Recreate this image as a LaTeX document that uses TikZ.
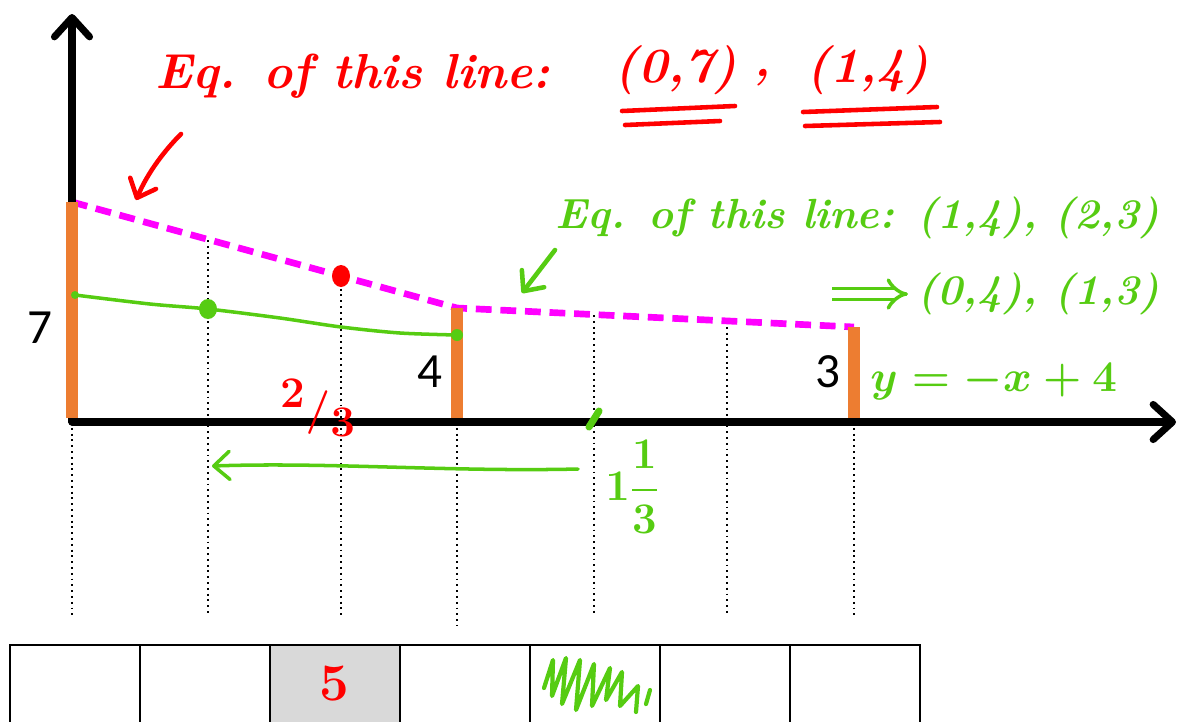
\documentclass[tikz,border=0pt]{standalone}
\usepackage{amsmath}
\usepackage{fontspec}
\usetikzlibrary{arrows.meta,positioning}
\newfontfamily\digitfont{Carlito}
\definecolor{BarOrange}{RGB}{237,125,49}
\definecolor{PenRed}{RGB}{255,0,0}
\definecolor{PenGreen}{RGB}{86,204,18}
\definecolor{SlopeMagenta}{RGB}{255,0,255}
\definecolor{CellGray}{RGB}{217,217,217}

\begin{document}
\begin{tikzpicture}[x=0.02cm, y=-0.02cm,
        axis/.style={line width=4pt, line cap=round,
                    -{Straight Barb[length=11pt, width=20pt, line width=4pt, round]}},
    bar/.style={BarOrange, line width=6.5pt},
    guide/.style={line width=1.1pt, dash pattern=on 1.1pt off 2.2pt},
        slope/.style={SlopeMagenta, line width=3.8pt, dash pattern=on 9pt off 5pt},
    digit/.style={font=\digitfont\fontsize{28}{30}\selectfont, inner sep=0pt},
    redpen/.style={PenRed, line width=2.6pt, line cap=round, line join=round},
    greenpen/.style={PenGreen, line width=2pt, line cap=round, line join=round},
    redtext/.style={text=PenRed, inner sep=0pt, font=\fontsize{28}{32}\selectfont\bfseries\itshape\boldmath},
    greentext/.style={text=PenGreen, inner sep=0pt, font=\fontsize{24}{28}\selectfont\bfseries\itshape\boldmath},
    barb/.style={-{Straight Barb[length=9pt, width=16pt, round]}},
    cell/.style={draw, line width=1.1pt, anchor=north west, inner sep=0pt, outer sep=0pt,
                minimum width=2.6cm, minimum height=1.8cm}
]
    \useasboundingbox (0,0) rectangle (1182,721);
    \clip (0,0) rectangle (1182,721);

    % grid of thirds
    \foreach \x/\top/\bot in {72/422/615, 208/240/615, 341/277/615, 457/422/625,
                              594/315/615, 727/321/615, 854/422/615}
        \draw[guide] (\x,\top) -- (\x,\bot);

    % the two pieces
    \coordinate (p0) at (72,202);
    \coordinate (p1) at (457,308);
    \coordinate (p2) at (854,327);
    \draw[slope] (p0) -- (p1) -- (p2);

    \coordinate (O) at (72,422);
    \coordinate (ytop) at (72,14);
    \coordinate (xend) at (1176,422);
    \draw[axis] (O) -- (ytop);
    \draw[axis] (O) -- (xend);

    \coordinate (b0) at (72,418);
    \coordinate (b1) at (457,418);
    \coordinate (b2) at (854,418);
    \draw[bar] (b0) -- (p0);
    \draw[bar] (b1) -- (p1);
    \draw[bar] (b2) -- (p2);

    \node[digit] (h7) at (40,328) {7};
    \node[digit] (h4) at (430,372) {4};
    \node[digit] (h3) at (828,372) {3};

    % red notes
    \node[redtext, anchor=west] (eqA) at (155,76) {Eq. of this line:};
    \node[redtext] (ptA) at (676,70) {(0,7)};
    \node[redtext] (comma) at (762,78) {,};
    \node[redtext] (ptB) at (868,70) {(1,4)};
    \draw[redpen] (622,111) -- (735,106);
    \draw[redpen] (625,125) -- (720,121);
    \draw[redpen] (803,112) -- (937,107);
    \draw[redpen] (805,126) -- (940,122);
    \coordinate (redtail) at (181,134);
    \coordinate (redtip) at (136,200);
    \draw[redpen, barb] (redtail) .. controls (165,150) and (148,172) .. (redtip);
    \fill[PenRed] (341,276) ellipse (9 and 11);
    \node[redtext, font=\fontsize{40}{44}\selectfont\boldmath] (third) at (318,408) {${}^{2}/{}_{3}$};

    % green notes
    \node[greentext, anchor=east] (eqB) at (1160,218) {Eq. of this line: (1,4), (2,3)};
    \node[greentext, anchor=east] (eqC) at (1160,294) {(0,4), (1,3)};
    \coordinate (thenA) at (832,294);
    \coordinate (thenB) at (908,294);
    \draw[PenGreen, line width=2pt, double distance=4pt, -{Implies}] (thenA) -- (thenB);
    \node[greentext, font=\fontsize{28}{30}\selectfont\boldmath, anchor=west] (eqD) at (870,382) {$y = -x + 4$};
    \coordinate (greentail) at (555,250);
    \coordinate (greentip) at (522,293);
    \draw[greenpen, line width=2.6pt, barb] (greentail) -- (greentip);

    \coordinate (g0) at (75,295);
    \coordinate (g1) at (208,309);
    \coordinate (g2) at (457,335);
    \draw[greenpen] plot[smooth] coordinates {(g0) (150,304) (g1) (280,318) (341,327) (400,333) (g2)};
    \fill[PenGreen] (g0) circle (4);
    \fill[PenGreen] (g1) ellipse (9 and 10);
    \fill[PenGreen] (g2) circle (6);
    \draw[PenGreen, line width=4pt, line cap=round] (589,427) -- (599,411);

    \coordinate (mixtail) at (578,469);
    \coordinate (mixtip) at (212,466);
    \draw[greenpen, barb] (mixtail) .. controls (450,472) and (330,462) .. (mixtip);
    \node[greentext, font=\fontsize{26}{30}\selectfont\boldmath] (mixed) at (632,487) {$1\dfrac{1}{3}$};

    % cells
    \foreach \i in {0,...,6}
        \node[cell] (cell\i) at (10+130*\i,645) {};
    \fill[CellGray] (cell2.north west) ++(0.6pt,-0.6pt) rectangle ([xshift=-0.6pt]cell2.south east);
    \node[redtext, font=\fontsize{30}{34}\selectfont\bfseries] (five) at (334,684) {5};
    \draw[greenpen, line width=2.4pt] (544,688) -- (553,660) -- (552,696) -- (566,658)
        -- (562,704) -- (580,660) -- (576,710) -- (594,664) -- (592,706) -- (610,668)
        -- (606,700) -- (622,672) -- (620,706) -- (638,686) -- (636,712);
    \draw[greenpen, line width=2.4pt] (650,690) -- (646,704);
\end{tikzpicture}
\end{document}
